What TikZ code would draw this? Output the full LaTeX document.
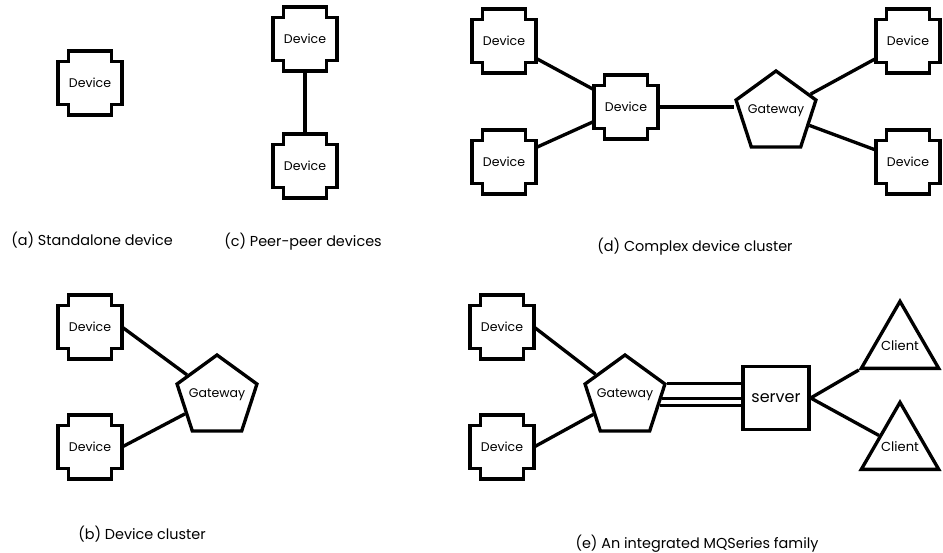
\documentclass[tikz,border=0pt]{standalone}
\usepackage{fontspec}
\setmainfont{Poppins}
\usepackage{tikz}
\usetikzlibrary{shapes.geometric, calc}

\newcommand{\notch}{7.8pt}
\newcommand{\smallfont}{\fontsize{9.4}{11}\selectfont}

\begin{document}
\begin{tikzpicture}[
    x=0.75pt, y=-0.75pt,
    device/.style={rectangle, minimum size=48pt, inner sep=0pt, outer sep=0pt, font=\smallfont},
    gateway/.style={regular polygon, regular polygon sides=5, draw, line width=2.5pt, minimum size=63pt, inner sep=0pt,
        label={[font=\smallfont, yshift=2pt]center:#1}},
    serverbox/.style={rectangle, draw, line width=2.5pt, minimum width=49.5pt, minimum height=47pt, font=\fontsize{12}{14}\selectfont},
    client/.style={regular polygon, regular polygon sides=3, draw, line width=2.5pt, minimum size=67pt, inner sep=0pt,
        label={[font=\fontsize{9.8}{11}\selectfont]center:#1}},
    link/.style={line width=2.5pt},
    outline/.style={line width=2.5pt, line join=miter},
    caption/.style={font=\fontsize{10.8}{13}\selectfont},
]
\useasboundingbox (0,0) rectangle (943,553);

% (a) standalone
\node[device] (da) at (90,83) {Device};
\node[caption] (capa) at (92,240) {(a) Standalone device};

% (c) peer-peer
\node[device] (dc1) at (305,39) {Device};
\node[device] (dc2) at (305,166) {Device};
\node[caption] (capc) at (303,242) {(c) Peer-peer devices};
\draw[link] (dc1) -- (dc2);

% (d) complex cluster
\node[device] (dd1) at (504,41) {Device};
\node[device] (dd2) at (504,162) {Device};
\node[device] (dd3) at (626,107) {Device};
\node[gateway=Gateway] (gwd) at (776,113) {};
\node[device] (dd4) at (908,41) {Device};
\node[device] (dd5) at (908,162) {Device};
\node[caption] (capd) at (695,247) {(d) Complex device cluster};
\draw[link] (dd1) -- (dd3);
\draw[link] (dd2) -- (dd3);
\draw[link] (dd3.east) -- (dd3.east -| gwd.corner 2);
\draw[link] (gwd) -- (dd4);
\draw[link] (gwd) -- (dd5);

% (b) device cluster
\node[device] (db1) at (90,327) {Device};
\node[device] (db2) at (90,447) {Device};
\node[gateway=Gateway] (gwb) at (217,397) {};
\node[caption] (capb) at (142,534) {(b) Device cluster};
\draw[link] (db1.east) -- (gwb);
\draw[link] (db2.east) -- (gwb);

% (e) MQSeries family
\node[device] (de1) at (502,327) {Device};
\node[device] (de2) at (502,447) {Device};
\node[gateway=Gateway] (gwe) at (625,397) {};
\node[serverbox] (srv) at (776,398) {server};
\node[client=Client] (cl1) at (900,346) {};
\node[client=Client] (cl2) at (900,447) {};
\node[caption] (cape) at (697,544) {(e) An integrated MQSeries family};
\draw[link] (de1.east) -- (gwe);
\draw[link] (de2.east) -- (gwe);
\draw[link] (gwe.corner 5) -- (gwe.corner 5 -| srv.west);
\draw[link] ($(gwe.corner 5)!0.3!(gwe.corner 4)$) coordinate (ch2) -- (ch2 -| srv.west);
\draw[link] ($(gwe.corner 5)!0.45!(gwe.corner 4)$) coordinate (ch3) -- (ch3 -| srv.west);
\draw[link] (srv.east) -- (cl1);
\draw[link] (srv.east) -- (cl2);

% notched outlines of the devices
\foreach \d in {da, dc1, dc2, dd1, dd2, dd3, dd4, dd5, db1, db2, de1, de2}
  \draw[outline] ([xshift=\notch]\d.north west) -- ([xshift=-\notch]\d.north east)
    -- ++(0,-\notch) -- ++(\notch,0) -- ([yshift=\notch]\d.south east)
    -- ++(-\notch,0) -- ++(0,-\notch) -- ([xshift=\notch]\d.south west)
    -- ++(0,\notch) -- ++(-\notch,0) -- ([yshift=-\notch]\d.north west)
    -- ++(\notch,0) -- cycle;

\end{tikzpicture}
\end{document}
